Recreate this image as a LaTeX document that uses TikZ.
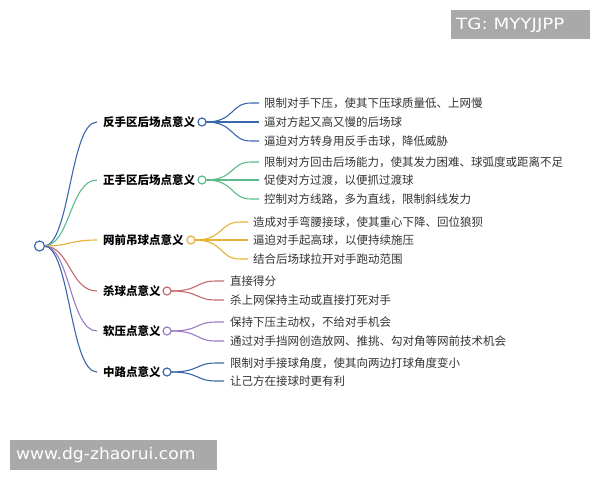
\documentclass[tikz,border=0pt]{standalone}
\usepackage{fontspec}
\setmainfont{Noto Sans CJK SC}
\newfontfamily\wmfont{DejaVu Sans}
\definecolor{cA}{HTML}{3B68AD}
\definecolor{cB}{HTML}{5DBB8A}
\definecolor{cC}{HTML}{E8B035}
\definecolor{cD}{HTML}{C66A6C}
\definecolor{cE}{HTML}{9B7BC2}
\definecolor{cF}{HTML}{3A69AA}
\definecolor{txt}{HTML}{333333}
\definecolor{wm}{HTML}{A9A9A9}
\begin{document}
\begin{tikzpicture}[x=1pt,y=-1pt,
  dot/.style={circle,draw=#1,line width=1.2pt,fill=white,minimum size=8pt,inner sep=0pt},
  br/.style={anchor=west,inner sep=0pt,font=\fontsize{11.5}{13}\selectfont\bfseries,text=black},
  lf/.style={anchor=west,inner sep=0pt,font=\fontsize{11.5}{13}\selectfont,text=txt},
  ln/.style={draw=#1,line width=1.1pt}]
\useasboundingbox (0,0) rectangle (600,480);
\fill[white] (0,0) rectangle (600,480);
% watermarks
\fill[wm] (451,10) rectangle (590,39);
\node[anchor=west,inner sep=0pt,text=white,font=\wmfont\fontsize{15.5}{17}\selectfont] (tg) at (456,25) {\scalebox{1.18}[1]{TG: MYYJJPP}};
\fill[wm] (10,440) rectangle (217,470);
\node[anchor=west,inner sep=0pt,text=white,font=\wmfont\fontsize{16}{18}\selectfont] (www) at (16,455) {\scalebox{1.07}[1]{www.dg-zhaorui.com}};
% root
\coordinate (r) at (44,246);
% branches
\coordinate (e1) at (97,122); \coordinate (e2) at (97,180); \coordinate (e3) at (97,240);
\coordinate (e4) at (97,291); \coordinate (e5) at (97,331); \coordinate (e6) at (97,372);
\foreach \e/\c in {e1/cA,e2/cB,e3/cC,e4/cD,e5/cE,e6/cF}{
  \draw[ln=\c] (r) .. controls (70,246) and (70,0|-\e) .. (\e);
}
\node[br] (b1) at (103,122) {反手区后场点意义};
\node[br] (b2) at (103,180) {正手区后场点意义};
\node[br] (b3) at (103,240) {网前吊球点意义};
\node[br] (b4) at (103,291) {杀球点意义};
\node[br] (b5) at (103,331) {软压点意义};
\node[br] (b6) at (103,372) {中路点意义};
% leaves branch 1
\node[lf] (l11) at (264,103) {限制对手下压，使其下压球质量低、上网慢};
\node[lf] (l12) at (264,122) {逼对方起又高又慢的后场球};
\node[lf] (l13) at (264,141) {逼迫对方转身用反手击球，降低威胁};
\node[lf] (l21) at (264,162) {限制对方回击后场能力，使其发力困难、球弧度或距离不足};
\node[lf] (l22) at (264,180) {促使对方过渡，以便抓过渡球};
\node[lf] (l23) at (264,199) {控制对方线路，多为直线，限制斜线发力};
\node[lf] (l31) at (253,222) {造成对手弯腰接球，使其重心下降、回位狼狈};
\node[lf] (l32) at (253,240) {逼迫对手起高球，以便持续施压};
\node[lf] (l33) at (253,259) {结合后场球拉开对手跑动范围};
\node[lf] (l41) at (230,281) {直接得分};
\node[lf] (l42) at (230,300) {杀上网保持主动或直接打死对手};
\node[lf] (l51) at (230,322) {保持下压主动权，不给对手机会};
\node[lf] (l52) at (230,341) {通过对手挡网创造放网、推挑、勾对角等网前技术机会};
\node[lf] (l61) at (230,363) {限制对手接球角度，使其向两边打球角度变小};
\node[lf] (l62) at (230,381) {让己方在接球时更有利};
% leaf connectors
\foreach \cx/\cy/\c/\xe/\leaves in {
  202/122/cA/259/{l11,l12,l13},
  202/180/cB/259/{l21,l22,l23},
  191/240/cC/248/{l31,l32,l33},
  167/291/cD/224/{l41,l42},
  167/331/cE/224/{l51,l52},
  167/372/cF/224/{l61,l62}}{
  \foreach \l in \leaves {
    \draw[ln=\c] (\cx+4,\cy) .. controls ({(\cx+\xe)/2+4},\cy) and ({(\cx+\xe)/2},0|-\l.west) .. (\xe-8,0|-\l.west) -- (\xe,0|-\l.west);
  }
}
\node[dot=cA] (c1) at (202,122) {};
\node[dot=cB] (c2) at (202,180) {};
\node[dot=cC] (c3) at (191,240) {};
\node[dot=cD] (c4) at (167,291) {};
\node[dot=cE] (c5) at (167,331) {};
\node[dot=cF] (c6) at (167,372) {};
\node[dot=cA,minimum size=10pt] (root) at (39.5,246) {};
\end{tikzpicture}
\end{document}
